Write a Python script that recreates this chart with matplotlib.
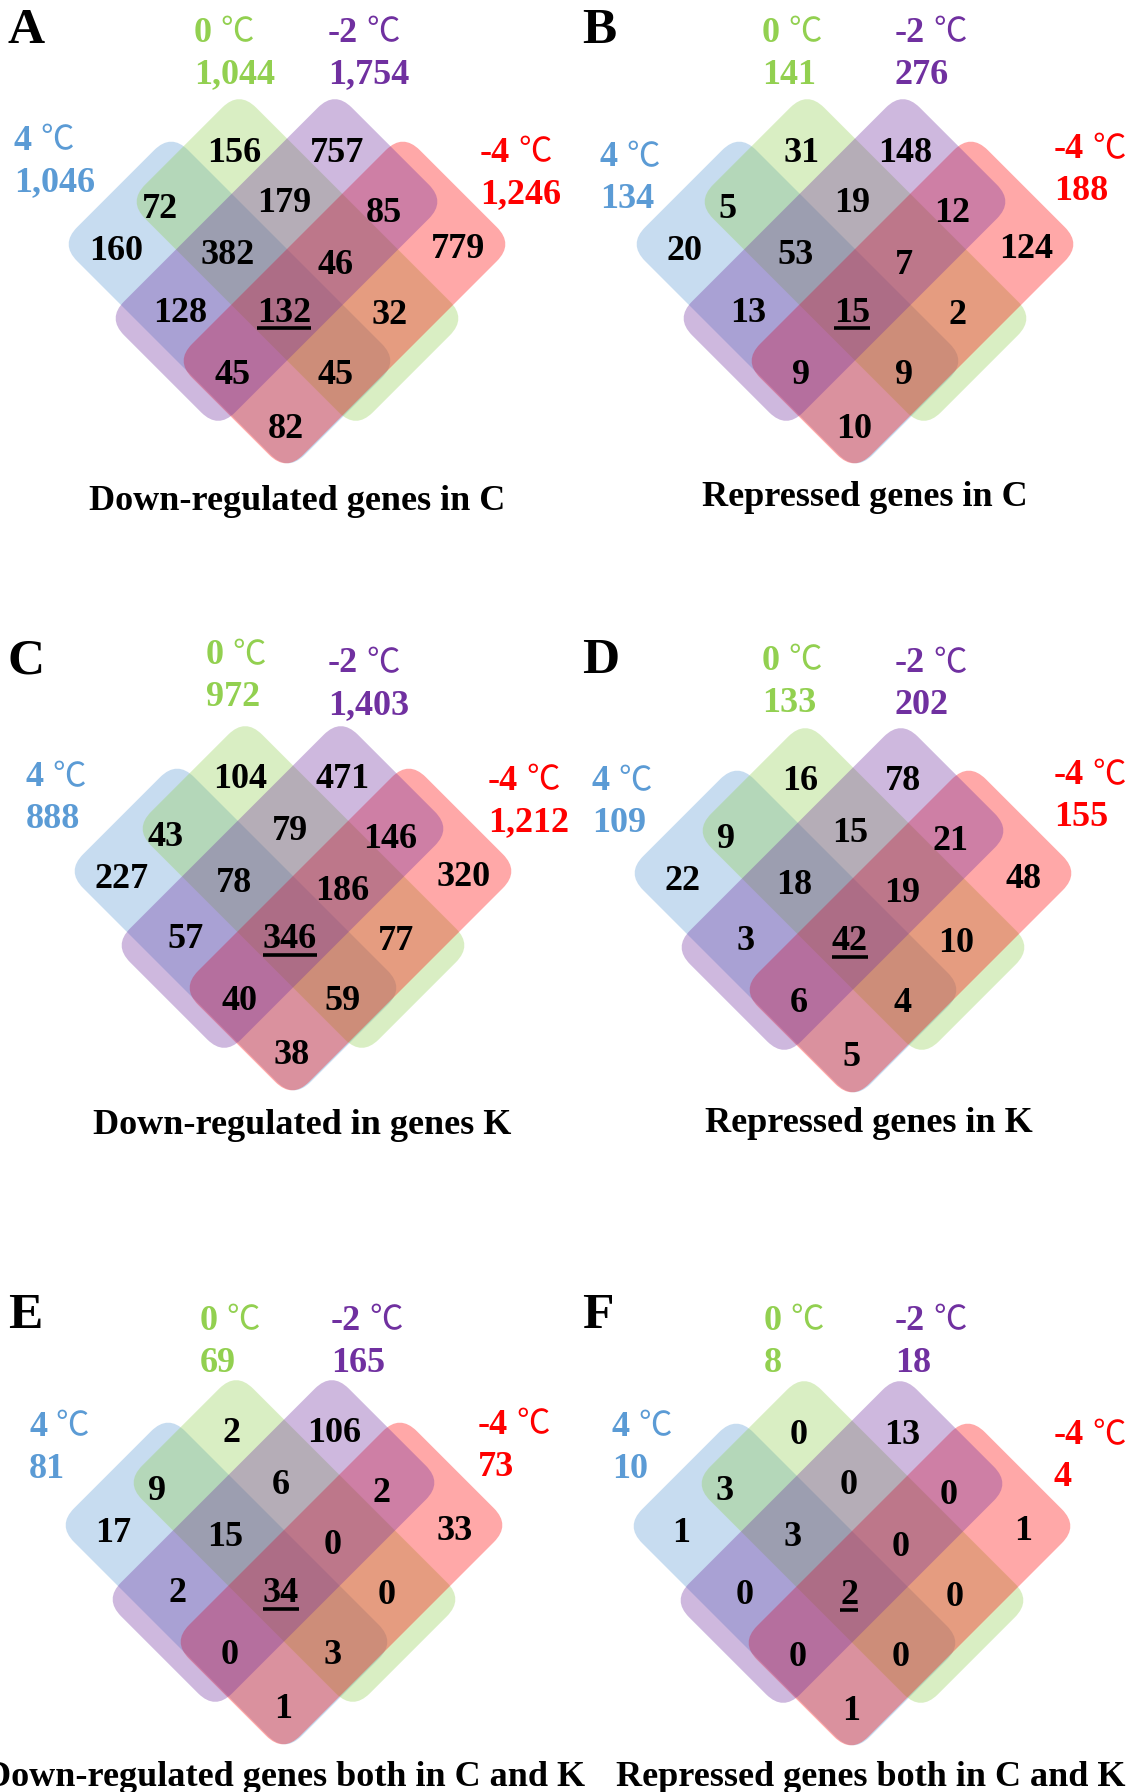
import matplotlib
matplotlib.use("Agg")
import matplotlib.pyplot as plt
from matplotlib.patches import FancyBboxPatch
from matplotlib.transforms import Affine2D

# sets: 4 C (blue), 0 C (green), -2 C (purple), -4 C (red)
set_names = ["4", "0", "-2", "-4"]
set_colors = ["#5B9BD5", "#92D050", "#7030A0", "#FF0000"]

# region order: B, G, P, R, BG, GP, PR, BGP, GPR, BGPR, BP, GR, BPR, BGR, BR
counts_A = [160, 156, 757, 779, 72, 179, 85, 382, 46, 132, 128, 32, 45, 45, 82]
counts_B = [20, 31, 148, 124, 5, 19, 12, 53, 7, 15, 13, 2, 9, 9, 10]
counts_C = [227, 104, 471, 320, 43, 79, 146, 78, 186, 346, 57, 77, 40, 59, 38]
counts_D = [22, 16, 78, 48, 9, 15, 21, 18, 19, 42, 3, 10, 6, 4, 5]
counts_E = [17, 2, 106, 33, 9, 6, 2, 15, 0, 34, 2, 0, 0, 3, 1]
counts_F = [1, 0, 13, 1, 3, 0, 0, 3, 0, 2, 0, 0, 0, 0, 1]

totals_A = ["1,046", "1,044", "1,754", "1,246"]
totals_B = ["134", "141", "276", "188"]
totals_C = ["888", "972", "1,403", "1,212"]
totals_D = ["109", "133", "202", "155"]
totals_E = ["81", "69", "165", "73"]
totals_F = ["10", "8", "18", "4"]

letters = ["A", "B", "C", "D", "E", "F"]
titles = ["Down-regulated genes in C", "Repressed genes in C",
          "Down-regulated in genes K", "Repressed genes in K",
          "Down-regulated genes both in C and K", "Repressed genes both in C and K"]

all_counts = [counts_A, counts_B, counts_C, counts_D, counts_E, counts_F]
all_totals = [totals_A, totals_B, totals_C, totals_D, totals_E, totals_F]

# ---- layout (pixels, image coords) ----
origins = [(287, 281), (855, 281), (293, 908), (853, 910), (284, 1562), (852, 1563)]
title_pos = [(297, 497), (865, 494), (302, 1122), (869, 1120), (285, 1774), (871, 1774)]
letter_pos = [(8, 27), (582, 27), (8, 657), (582, 657), (8, 1312), (582, 1312)]
# left x, first line y for each set label (blue, green, purple, red)
label_pos = [
    [(14, 137), (194, 29), (328, 29), (480, 149)],
    [(600, 154), (762, 29), (895, 29), (1054, 146)],
    [(26, 774), (206, 652), (328, 660), (488, 777)],
    [(592, 778), (762, 657), (895, 660), (1054, 772)],
    [(29, 1423), (200, 1317), (331, 1317), (478, 1421)],
    [(612, 1423), (764, 1317), (895, 1317), (1054, 1432)],
]
line_gap = 42
dy_txt = 4
# shape centres relative to origin, angle (draw order: blue, green, red, purple)
shape_off = [(-57.5, 21.5, 45), (10.5, -21, 45), (-10.5, -21, -45), (57.5, 21.5, -45)]
draw_order = [0, 1, 3, 2]
L, W, R = 322, 157, 24
region_off = [(-171, -33), (-53, -132), (50, -132), (171, -35), (-127, -75),
              (-3, -81), (97, -72), (-59, -29), (49, -20), (-3, 28),
              (-107, 28), (103, 30), (-54, 90), (49, 90), (-1, 144)]

serif = "Liberation Serif"
fs = 26

fig = plt.figure(figsize=(11.34, 17.92), dpi=100)
ax = fig.add_axes([0, 0, 1, 1])
ax.set_xlim(0, 1134)
ax.set_ylim(1792, 0)
ax.axis("off")

underline_texts = []
number_texts = []
for p in range(6):
    ox, oy = origins[p]
    for k in draw_order:
        dx, dy, ang = shape_off[k]
        cx, cy = ox + dx, oy + dy
        box = FancyBboxPatch((cx - L / 2, cy - W / 2), L, W,
                             boxstyle="round,pad=0,rounding_size=%d" % R,
                             facecolor=set_colors[k], edgecolor="none", alpha=0.34)
        box.set_transform(Affine2D().rotate_deg_around(cx, cy, ang) + ax.transData)
        ax.add_patch(box)
    for i, (c, (dx, dy)) in enumerate(zip(all_counts[p], region_off)):
        t = ax.text(ox + dx, oy + dy + dy_txt, str(c), fontsize=fs, fontweight="bold",
                    family=serif, ha="center", va="center", color="black")
        if i == 9:
            underline_texts.append(t)
    for k in range(4):
        lx, ly = label_pos[p][k]
        t1 = ax.text(lx, ly + dy_txt, set_names[k], fontsize=fs, fontweight="bold",
                     family=serif, ha="left", va="center", color=set_colors[k])
        number_texts.append((t1, set_colors[k]))
        ax.text(lx, ly + line_gap + dy_txt, all_totals[p][k], fontsize=fs, fontweight="bold",
                family=serif, ha="left", va="center", color=set_colors[k])
    ax.text(title_pos[p][0], title_pos[p][1] + dy_txt, titles[p], fontsize=fs,
            fontweight="bold", family=serif, ha="center", va="center")
    ax.text(letter_pos[p][0], letter_pos[p][1] + dy_txt, letters[p], fontsize=37,
            fontweight="bold", family=serif, ha="left", va="center")

fig.canvas.draw()
renderer = fig.canvas.get_renderer()
inv = ax.transData.inverted()
for t in underline_texts:
    bb = t.get_window_extent(renderer)
    (x0, y0), (x1, y1) = inv.transform([(bb.x0, bb.y0), (bb.x1, bb.y1)])
    ax.plot([x0, x1], [y0 - 1, y0 - 1], color="black", lw=2.6,
            solid_capstyle="butt")
for t, col in number_texts:
    bb = t.get_window_extent(renderer)
    (x0, y0), (x1, y1) = inv.transform([(bb.x0, bb.y0), (bb.x1, bb.y1)])
    x, y = t.get_position()
    ax.text(x1 + 8, y - 1, "\u2103", fontsize=fs - 2,
            family=["Noto Sans CJK SC", "DejaVu Sans"], fontweight="light",
            ha="left", va="center", color=col)

fig.savefig("out.png", dpi=100)
